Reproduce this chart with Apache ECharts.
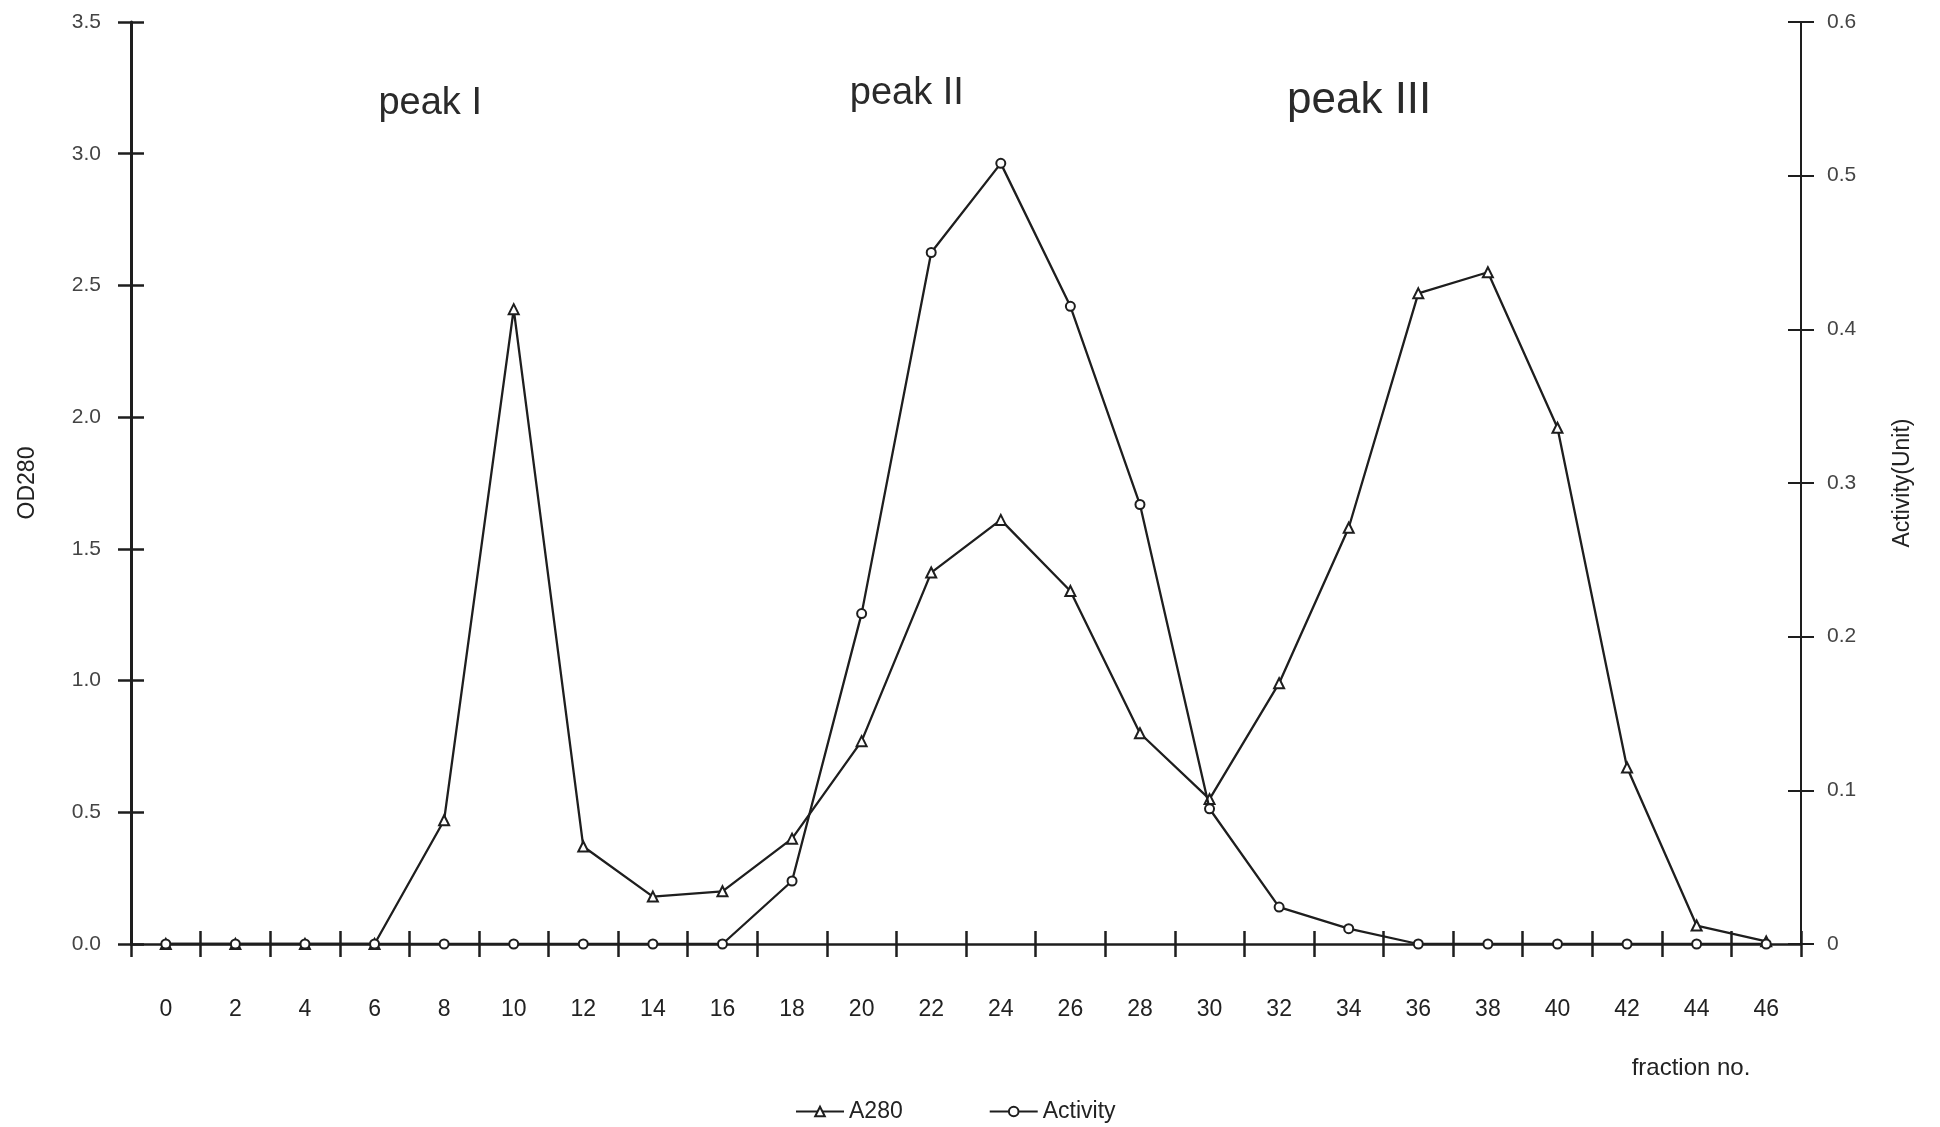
<!DOCTYPE html>
<html>
<head>
<meta charset="utf-8">
<script src="https://cdn.jsdelivr.net/npm/echarts@6/dist/echarts.min.js"></script>
<style>
  html, body { margin: 0; padding: 0; background: #fff; }
  #chart { width: 1940px; height: 1127px; }
</style>
</head>
<body>
<div id="chart"></div>
<script>
// ---- data ----
const fractions = [0, 2, 4, 6, 8, 10, 12, 14, 16, 18, 20, 22, 24, 26, 28, 30, 32, 34, 36, 38, 40, 42, 44, 46];
const a280 =     [0, 0, 0, 0, 0.47, 2.41, 0.37, 0.18, 0.20, 0.40, 0.77, 1.41, 1.61, 1.34, 0.80, 0.55, 0.99, 1.58, 2.47, 2.55, 1.96, 0.67, 0.07, 0.01];
const activity = [0, 0, 0, 0, 0, 0, 0, 0, 0, 0.041, 0.215, 0.450, 0.508, 0.415, 0.286, 0.088, 0.024, 0.010, 0, 0, 0, 0, 0, 0];
const xLabelValues = [0, 2, 4, 6, 8, 10, 12, 14, 16, 18, 20, 22, 24, 26, 28, 30, 32, 34, 36, 38, 40, 42, 44, 46];
const xTickValues = [-1, 1, 3, 5, 7, 9, 11, 13, 15, 17, 19, 21, 23, 25, 27, 29, 31, 33, 35, 37, 39, 41, 43, 45, 47];
const peakNames = ['peak I', 'peak II', 'peak III'];
const peakX = [7.6, 21.3, 34.3];
const peakY = [3.19, 3.23, 3.20];
const peakSizes = [38, 38, 44];

const FONT = '"Liberation Sans", Arial, Helvetica, sans-serif';
const INK = '#1e1e1e';

const chart = echarts.init(document.getElementById('chart'), null, { renderer: 'canvas' });

function pairs(xs, ys) { return xs.map((x, i) => [x, ys[i]]); }

const xBase = { type: 'value', min: -1, max: 47, gridIndex: 0, position: 'bottom', splitLine: { show: false } };
const yLeftBase = { type: 'value', min: 0, max: 3.5, interval: 0.5, position: 'left', splitLine: { show: false } };
const yRightBase = { type: 'value', min: 0, max: 0.6, interval: 0.1, position: 'right', splitLine: { show: false } };

const option = {
  backgroundColor: '#ffffff',
  animation: false,
  textStyle: { fontFamily: FONT },
  grid: { left: 131, right: 139, top: 22, bottom: 183, containLabel: false },
  xAxis: [
    Object.assign({}, xBase, {
      name: 'fraction no.',
      nameLocation: 'end',
      nameGap: -110,
      nameTextStyle: { fontFamily: FONT, fontSize: 24, color: '#222', align: 'center', verticalAlign: 'top', padding: [112, 0, 0, 0] },
      axisLine: { show: true, onZero: false, lineStyle: { color: INK, width: 2.5 } },
      axisTick: { show: true, inside: false, length: 13, lineStyle: { color: INK, width: 2.5 }, customValues: xTickValues },
      axisLabel: { show: true, margin: 54, fontFamily: FONT, fontSize: 23, color: '#222', customValues: xLabelValues }
    }),
    Object.assign({}, xBase, {
      axisLine: { show: false, onZero: false },
      axisTick: { show: true, inside: true, length: 13, lineStyle: { color: INK, width: 2.5 }, customValues: xTickValues },
      axisLabel: { show: false }
    })
  ],
  yAxis: [
    Object.assign({}, yLeftBase, {
      name: 'OD280',
      nameLocation: 'middle',
      nameRotate: 90,
      nameGap: 92,
      nameTextStyle: { fontFamily: FONT, fontSize: 23, color: '#222' },
      axisLine: { show: true, onZero: false, lineStyle: { color: INK, width: 3 } },
      axisTick: { show: true, inside: false, length: 13, lineStyle: { color: INK, width: 2.5 } },
      axisLabel: { show: true, margin: 30, fontFamily: FONT, fontSize: 21, color: '#444', formatter: v => v.toFixed(1) }
    }),
    Object.assign({}, yRightBase, {
      name: 'Activity(Unit)',
      nameLocation: 'middle',
      nameRotate: 90,
      nameGap: 90,
      nameTextStyle: { fontFamily: FONT, fontSize: 23, color: '#222' },
      axisLine: { show: true, onZero: false, lineStyle: { color: INK, width: 2 } },
      axisTick: { show: true, inside: false, length: 13, lineStyle: { color: INK, width: 2 } },
      axisLabel: { show: true, margin: 26, fontFamily: FONT, fontSize: 21, color: '#444' }
    }),
    Object.assign({}, yLeftBase, {
      axisLine: { show: false, onZero: false },
      axisTick: { show: true, inside: true, length: 13, lineStyle: { color: INK, width: 2.5 } },
      axisLabel: { show: false }
    }),
    Object.assign({}, yRightBase, {
      axisLine: { show: false, onZero: false },
      axisTick: { show: true, inside: true, length: 13, lineStyle: { color: INK, width: 2 } },
      axisLabel: { show: false }
    })
  ],
  legend: {
    data: ['A280', 'Activity'],
    left: 790,
    top: 1095,
    itemWidth: 48,
    itemHeight: 12,
    itemGap: 86,
    textStyle: { fontFamily: FONT, fontSize: 23, color: '#222' }
  },
  series: [
    {
      name: 'A280',
      type: 'line',
      xAxisIndex: 0,
      yAxisIndex: 0,
      data: pairs(fractions, a280),
      symbol: 'triangle',
      symbolSize: 10,
      showAllSymbol: true,
      lineStyle: { color: INK, width: 2.3 },
      itemStyle: { color: '#ffffff', borderColor: INK, borderWidth: 2 },
      z: 3,
      markPoint: {
        symbol: 'circle',
        symbolSize: 1,
        itemStyle: { color: 'rgba(0,0,0,0)' },
        label: { show: true, position: 'inside', formatter: '{b}', fontFamily: FONT, color: '#2a2a2a' },
        data: peakNames.map((n, i) => ({ name: n, coord: [peakX[i], peakY[i]], label: { fontSize: peakSizes[i] } }))
      }
    },
    {
      name: 'Activity',
      type: 'line',
      xAxisIndex: 0,
      yAxisIndex: 1,
      data: pairs(fractions, activity),
      symbol: 'circle',
      symbolSize: 9,
      showAllSymbol: true,
      lineStyle: { color: INK, width: 2.3 },
      itemStyle: { color: '#ffffff', borderColor: INK, borderWidth: 2 },
      z: 4
    }
  ]
};

chart.setOption(option);
</script>
</body>
</html>
